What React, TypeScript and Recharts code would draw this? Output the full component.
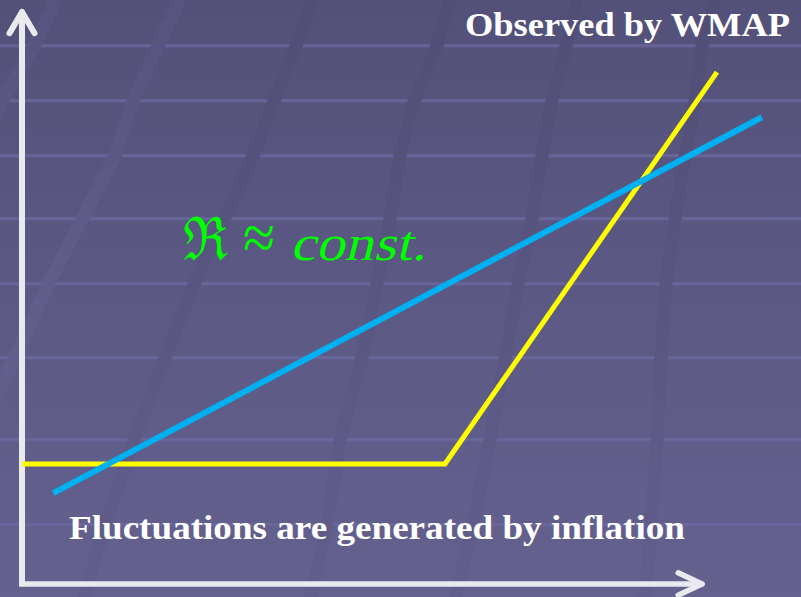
import React from 'react';
import { LineChart, Line, XAxis, YAxis, ReferenceLine } from 'recharts';

// Canvas
const W = 801;
const H = 597;

// Diagram coordinate system: both axes run from 0 (origin) to 100 (arrow tip)
const ORIGIN_X = 22;
const ORIGIN_Y = 584;
const PX_PER_UNIT_X = 6.8;
const PX_PER_UNIT_Y = 5.72;
const X_DOMAIN: [number, number] = [-ORIGIN_X / PX_PER_UNIT_X, (W - ORIGIN_X) / PX_PER_UNIT_X];
const Y_DOMAIN: [number, number] = [-(H - ORIGIN_Y) / PX_PER_UNIT_Y, ORIGIN_Y / PX_PER_UNIT_Y];

// Yellow curve: flat, then rising steeply
const yellowX = [0, 62.2, 102.2];
const yellowY = [21, 21, 89.5];

// Blue curve: straight line
const blueX = [4.6, 108.8];
const blueY = [15.9, 81.6];

const yellowData = yellowX.map((x, i) => ({ x, y: yellowY[i] }));
const blueData = blueX.map((x, i) => ({ x, y: blueY[i] }));

// Axis arrow geometry (diagram units)
const AXIS_END = 100;
const ARROW_BACK_X = 3.5;
const ARROW_HALF_Y = 1.95;
const ARROW_BACK_Y = 3.7;
const ARROW_HALF_X = 1.84;

const AXIS_COLOR = '#e9e9ee';

// Slide backdrop decoration
const RULE_Y = [46, 101, 156, 219, 284, 358, 440, 525];
const DARK_STRIPES = [
  [[313, 0], [296, 46], [274, 101], [253, 156], [224, 219], [194, 284], [165, 358], [134, 440], [105, 525], [83, 600]],
  [[450, 0], [437, 46], [414, 101], [400, 156], [390, 219], [377, 284], [362, 358], [340, 440], [327, 525], [310, 600]],
  [[577, 0], [566, 46], [552, 101], [542, 156], [532, 219], [518, 284], [505, 358], [490, 440], [473, 525], [455, 600]],
  [[716, 0], [702, 46], [695, 101], [685, 156], [675, 219], [666, 284], [661, 358], [657, 440], [651, 525], [645, 600]],
];
const LIGHT_STRIPES = [
  [[56, 0], [34, 46], [2, 101], [-10, 125]],
  [[180, 0], [158, 46], [133, 101], [115, 156], [82, 219], [48, 284], [15, 358], [-8, 405]],
];

const toPath = (pts: number[][]) =>
  pts.map((p, i) => `${i === 0 ? 'M' : 'L'}${p[0]},${p[1]}`).join(' ');

function Backdrop() {
  return (
    <svg width={W} height={H} style={{ position: 'absolute', left: 0, top: 0 }}>
      <defs>
        <linearGradient id="bg" x1="0" y1="0" x2="0" y2={H} gradientUnits="userSpaceOnUse">
          <stop offset="0" stopColor="#535179" />
          <stop offset="1" stopColor="#64618f" />
        </linearGradient>
        <linearGradient id="darkStripe" x1="0" y1="0" x2="0" y2={H} gradientUnits="userSpaceOnUse">
          <stop offset="0" stopColor="#504e76" />
          <stop offset="1" stopColor="#615e8c" />
        </linearGradient>
        <linearGradient id="lightStripe" x1="0" y1="0" x2="0" y2={H} gradientUnits="userSpaceOnUse">
          <stop offset="0" stopColor="#57557f" />
          <stop offset="1" stopColor="#686594" />
        </linearGradient>
      </defs>
      <rect x={0} y={0} width={W} height={H} fill="url(#bg)" />
      {RULE_Y.map((y) => (
        <g key={y}>
          <rect x={0} y={y - 1.5} width={W} height={3} fill="#6a68a0" opacity={0.7} />
          <rect x={0} y={y - 1.5} width={W} height={1} fill="#7573ab" opacity={0.5} />
        </g>
      ))}
      {LIGHT_STRIPES.map((s, i) => (
        <path key={`l${i}`} d={toPath(s)} fill="none" stroke="url(#lightStripe)" strokeWidth={13} strokeLinejoin="round" />
      ))}
      {DARK_STRIPES.map((s, i) => (
        <path key={`d${i}`} d={toPath(s)} fill="none" stroke="url(#darkStripe)" strokeWidth={13} strokeLinejoin="round" />
      ))}
    </svg>
  );
}

function Captions() {
  return (
    <svg width={W} height={H} style={{ position: 'absolute', left: 0, top: 0, pointerEvents: 'none' }}>
      <text
        x={790}
        y={35.5}
        textAnchor="end"
        fill="#ffffff"
        fontFamily="'Liberation Serif', 'Times New Roman', serif"
        fontWeight="bold"
        fontSize={34}
        textLength={325}
        lengthAdjust="spacingAndGlyphs"
      >
        Observed by WMAP
      </text>
      <text
        x={69}
        y={538.5}
        fill="#ffffff"
        fontFamily="'Liberation Serif', 'Times New Roman', serif"
        fontWeight="bold"
        fontSize={33}
        textLength={616}
        lengthAdjust="spacingAndGlyphs"
      >
        Fluctuations are generated by inflation
      </text>
      <text x={183} y={260} fill="#00ff00" fontSize={60} fontFamily="'DejaVu Serif', serif" textLength={45} lengthAdjust="spacingAndGlyphs">
        ℜ
      </text>
      <text x={243} y={259} fill="#00ff00" fontSize={64} fontFamily="'Liberation Serif', serif" textLength={32} lengthAdjust="spacingAndGlyphs">
        ≈
      </text>
      {/* slanted serif for the math-style "const." */}
      <text
        transform="translate(290,260) skewX(-14)"
        x={0}
        y={0}
        fill="#00ff00"
        fontSize={50}
        fontFamily="'Liberation Serif', serif"
        textLength={136}
        lengthAdjust="spacingAndGlyphs"
      >
        const.
      </text>
    </svg>
  );
}

export default function App() {
  return (
    <div style={{ position: 'absolute', left: 0, top: 0, width: W, height: H, overflow: 'hidden' }}>
      <Backdrop />
      <Captions />
      <div style={{ position: 'absolute', left: 0, top: 0 }}>
        <LineChart width={W} height={H} margin={{ top: 0, right: 0, bottom: 0, left: 0 }}>
          <XAxis type="number" dataKey="x" domain={X_DOMAIN} allowDataOverflow hide />
          <YAxis type="number" dataKey="y" domain={Y_DOMAIN} allowDataOverflow hide />

          {/* vertical axis with arrow */}
          <ReferenceLine
            segment={[{ x: 0, y: -0.3 }, { x: 0, y: AXIS_END }]}
            stroke={AXIS_COLOR}
            strokeWidth={6}
          />
          <ReferenceLine
            segment={[{ x: -ARROW_HALF_X, y: AXIS_END - ARROW_BACK_Y }, { x: 0, y: AXIS_END }]}
            stroke={AXIS_COLOR}
            strokeWidth={6}
            strokeLinecap="round"
          />
          <ReferenceLine
            segment={[{ x: ARROW_HALF_X, y: AXIS_END - ARROW_BACK_Y }, { x: 0, y: AXIS_END }]}
            stroke={AXIS_COLOR}
            strokeWidth={6}
            strokeLinecap="round"
          />

          {/* horizontal axis with arrow */}
          <ReferenceLine
            segment={[{ x: -0.42, y: 0 }, { x: AXIS_END, y: 0 }]}
            stroke={AXIS_COLOR}
            strokeWidth={5.5}
          />
          <ReferenceLine
            segment={[{ x: AXIS_END - ARROW_BACK_X, y: ARROW_HALF_Y }, { x: AXIS_END, y: 0 }]}
            stroke={AXIS_COLOR}
            strokeWidth={5.5}
            strokeLinecap="round"
          />
          <ReferenceLine
            segment={[{ x: AXIS_END - ARROW_BACK_X, y: -ARROW_HALF_Y }, { x: AXIS_END, y: 0 }]}
            stroke={AXIS_COLOR}
            strokeWidth={5.5}
            strokeLinecap="round"
          />

          <Line
            data={yellowData}
            dataKey="y"
            type="linear"
            stroke="#ffff00"
            strokeWidth={5}
            dot={false}
            activeDot={false}
            isAnimationActive={false}
          />
          <Line
            data={blueData}
            dataKey="y"
            type="linear"
            stroke="#00b0f0"
            strokeWidth={6}
            dot={false}
            activeDot={false}
            isAnimationActive={false}
          />
        </LineChart>
      </div>
    </div>
  );
}
